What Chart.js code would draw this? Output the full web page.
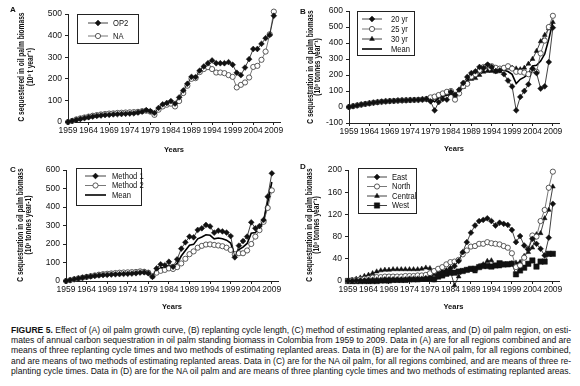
<!DOCTYPE html>
<html lang="en">
<head>
<meta charset="UTF-8">
<title>Figure 5</title>
<script src="https://cdn.jsdelivr.net/npm/chart.js"></script>
<style>
  body { margin: 0; width: 580px; height: 386px; background: #fff; position: relative; overflow: hidden;
         font-family: 'Liberation Sans', Arial, sans-serif; color: #111; }
  canvas { position: absolute; }
  .letter { position: absolute; font-weight: bold; font-size: 8px; }
  .ytitle { position: absolute; white-space: nowrap; font-weight: bold; font-size: 8.5px; line-height: 8px;
            transform: translate(-50%, -50%) rotate(-90deg) scaleX(0.78); }
  .caption { position: absolute; left: 11px; font-size: 9px; line-height: 10.4px; }
  .caption div { white-space: nowrap; width: max-content; transform-origin: 0 0; }
</style>
</head>
<body>
<canvas id="chartA" width="290" height="160" style="left:0;top:0"></canvas>
<canvas id="chartB" width="290" height="160" style="left:290px;top:0"></canvas>
<canvas id="chartC" width="290" height="160" style="left:0;top:160px"></canvas>
<canvas id="chartD" width="290" height="160" style="left:290px;top:160px"></canvas>

<div class="letter" style="left:10px;top:5px">A</div>
<div class="letter" style="left:300px;top:7px">B</div>
<div class="letter" style="left:10px;top:165px">C</div>
<div class="letter" style="left:300px;top:162px">D</div>

<div class="ytitle" style="left:21px;top:67px">C sequestered in oil palm biomass</div>
<div class="ytitle" style="left:29.5px;top:67px">(10³ t year⁻¹)</div>
<div class="ytitle" style="left:309.5px;top:67px">C sequestration in oil palm biomass</div>
<div class="ytitle" style="left:317px;top:67px">(10³ tonnes year⁻¹)</div>
<div class="ytitle" style="left:20px;top:225px">C sequestration in oil palm biomass</div>
<div class="ytitle" style="left:27.5px;top:225px">(10³ tonnes year-1)</div>
<div class="ytitle" style="left:308.5px;top:225px">C sequestration in oil palm biomass</div>
<div class="ytitle" style="left:316px;top:225px">(10³ tonnes year⁻¹)</div>

<div class="caption" style="top:324.5px">
  <div><b>FIGURE 5.</b> Effect of (A) oil palm growth curve, (B) replanting cycle length, (C) method of estimating replanted areas, and (D) oil palm region, on esti-</div>
  <div>mates of annual carbon sequestration in oil palm standing biomass in Colombia from 1959 to 2009. Data in (A) are for all regions combined and are</div>
  <div>means of three replanting cycle times and two methods of estimating replanted areas. Data in (B) are for the NA oil palm, for all regions combined,</div>
  <div>and are means of two methods of estimating replanted areas. Data in (C) are for the NA oil palm, for all regions combined, and are means of three re-</div>
  <div>planting cycle times. Data in (D) are for the NA oil palm and are means of three planting cycle times and two methods of estimating replanted areas.</div>
</div>
<script>
// years on the x axis
const years = [1959,1960,1961,1962,1963,1964,1965,1966,1967,1968,1969,1970,1971,1972,1973,1974,1975,1976,1977,1978,
  1979,1980,1981,1982,1983,1984,1985,1986,1987,1988,1989,1990,1991,1992,1993,1994,1995,1996,1997,1998,
  1999,2000,2001,2002,2003,2004,2005,2006,2007,2008,2009];
const tickYears = [1959,1964,1969,1974,1979,1984,1989,1994,1999,2004,2009];

// (A) growth curve
const op2 = [0,5,10,14,18,22,25,28,30,32,33,35,36,37,38,39,40,44,48,55,50,
  42,65,82,88,97,85,114,146,177,209,208,238,257,272,285,272,272,272,277,265,228,217,252,291,338,338,362,388,403,492];
const na = [0,5,12,17,21,25,29,32,35,37,39,40,42,43,44,45,46,47,50,52,48,
  33,57,72,80,85,72,97,134,168,200,203,231,245,254,245,229,229,226,217,209,160,172,183,206,255,260,288,326,406,511];

// (B) replanting cycle
const yr20 = [0,5,10,15,19,23,27,30,33,35,37,38,40,41,42,43,44,45,47,50,
  35,-21,31,50,46,94,77,108,150,188,212,223,250,244,265,250,225,229,205,165,128,-21,63,100,142,240,212,115,129,281,496];
const yr25 = [0,5,10,15,19,23,27,30,33,35,37,38,40,41,42,43,44,45,47,50,
  60,65,75,85,95,100,46,85,130,145,190,205,230,250,260,255,245,240,245,255,240,220,220,215,205,230,220,335,415,500,570];
const yr30 = [0,5,10,15,19,23,27,30,33,35,37,38,40,41,42,43,44,45,47,50,
  50,55,65,75,80,85,70,95,125,160,175,180,200,220,225,225,220,225,240,245,245,240,235,245,270,300,350,410,450,490,530];
const meanB = [0,5,10,15,19,23,27,30,33,35,37,38,40,41,42,43,44,45,47,50,
  48,33,57,70,74,93,64,96,135,164,192,203,227,238,250,243,230,231,230,222,204,146,173,187,206,257,261,287,331,424,532];

// (C) replanted area method
const method1 = [0,5,10,14,18,22,25,28,30,32,33,35,36,37,38,39,40,42,45,47,42,
  23,68,90,85,104,77,117,175,209,240,236,276,285,303,295,261,272,268,262,243,128,191,216,240,317,285,297,330,456,582];
const method2 = [0,4,9,14,18,22,26,30,34,37,39,41,43,45,46,47,48,49,52,50,45,
  25,45,55,60,68,65,75,95,120,145,160,180,190,197,198,195,192,188,180,168,145,150,150,165,200,240,275,320,395,490];
const meanC = [0,5,10,14,18,22,26,29,32,35,36,38,40,41,42,43,44,46,49,49,44,
  24,57,72,72,86,71,96,135,165,193,198,228,238,250,247,228,232,228,221,205,137,170,183,203,258,262,286,325,425,535];

// (D) region
const east = [0,0,1,1,1,2,2,2,2,3,3,3,3,3,3,4,4,4,4,5,5,
  3,10,14,18,23,27,36,52,70,87,100,108,110,113,108,100,105,103,101,92,70,81,64,57,76,67,58,46,78,139];
const north = [0,1,2,3,4,5,6,7,7,8,8,8,8,8,9,9,9,10,10,11,14,
  18,22,25,30,34,35,38,48,55,62,63,67,67,70,68,67,66,63,60,50,25,28,42,58,82,80,108,128,168,197];
const central = [0,2,4,6,9,11,14,17,19,20,20,21,21,21,21,21,21,21,22,24,23,
  12,16,18,19,17,-8,8,18,20,20,17,27,30,36,37,27,26,28,30,32,33,34,45,52,60,84,86,113,128,170];
const west = [0,0,0,0,0,0,0,0,1,1,1,2,2,2,2,3,3,3,4,4,5,
  3,8,10,13,15,15,17,18,20,22,22,25,27,27,26,28,32,30,30,31,12,19,24,31,37,26,35,35,49,49];

const FONT = "'Liberation Sans', Arial, sans-serif";

// squeeze every caption line to the full text width
document.querySelectorAll('.caption div').forEach(d => {
  const w = d.getBoundingClientRect().width;
  d.style.transform = 'scaleX(' + (560 / w) + ')';
});

function pts(vals) {
  return years.map((y, i) => ({ x: y, y: vals[i] }));
}

// marker styles
function filledDiamond(label, vals) {
  return { label, data: pts(vals), borderColor: '#111', borderWidth: 0.8, pointStyle: 'rectRot',
    pointRadius: 2.9, pointBackgroundColor: '#111', pointBorderColor: '#111', pointBorderWidth: 0.5, clip: false };
}
function openCircle(label, vals) {
  return { label, data: pts(vals), borderColor: '#555', borderWidth: 0.8, pointStyle: 'circle',
    pointRadius: 2.6, pointBackgroundColor: '#fff', pointBorderColor: '#333', pointBorderWidth: 0.8, clip: false };
}
function triangle(label, vals) {
  return { label, data: pts(vals), borderColor: '#111', borderWidth: 0.8, pointStyle: 'triangle',
    pointRadius: 2.8, pointBackgroundColor: '#111', pointBorderColor: '#111', pointBorderWidth: 0.5, clip: false };
}
function square(label, vals) {
  return { label, data: pts(vals), borderColor: '#111', borderWidth: 0.8, pointStyle: 'rect',
    pointRadius: 3.8, pointBackgroundColor: '#111', pointBorderColor: '#111', pointBorderWidth: 0.5, clip: false };
}
function meanLine(label, vals) {
  return { label, data: pts(vals), borderColor: '#000', borderWidth: 1.6, pointRadius: 0, clip: false };
}

// legend drawn as a framed box inside the plot
const boxLegend = {
  id: 'boxLegend',
  afterDraw(chart, args, o) {
    const ctx = chart.ctx;
    ctx.save();
    ctx.strokeStyle = '#222';
    ctx.lineWidth = 1;
    ctx.strokeRect(o.x + 0.5, o.y + 0.5, o.w, o.h);
    ctx.font = '9.5px ' + FONT;
    ctx.textBaseline = 'middle';
    chart.data.datasets.forEach((ds, i) => {
      const y = o.y + o.first + i * o.gap;
      ctx.strokeStyle = ds.borderColor;
      ctx.lineWidth = ds.borderWidth;
      ctx.beginPath();
      ctx.moveTo(o.x + o.l1, y);
      ctx.lineTo(o.x + o.l2, y);
      ctx.stroke();
      if (ds.pointRadius > 0) {
        ctx.fillStyle = ds.pointBackgroundColor;
        ctx.strokeStyle = ds.pointBorderColor;
        ctx.lineWidth = ds.pointBorderWidth;
        Chart.helpers.drawPoint(ctx, { pointStyle: ds.pointStyle, radius: ds.pointRadius, borderWidth: ds.pointBorderWidth },
          o.x + (o.l1 + o.l2) / 2, y);
      }
      ctx.save();
      ctx.translate(o.x + o.tx, y);
      ctx.scale(0.8, 1);
      ctx.fillStyle = '#111';
      ctx.fillText(ds.label, 0, 0);
      ctx.restore();
    });
    ctx.restore();
  }
};

function makePanel(id, sets, p) {
  return new Chart(document.getElementById(id), {
    type: 'line',
    data: { datasets: sets },
    plugins: [boxLegend],
    options: {
      responsive: false,
      animation: false,
      layout: { padding: { left: 0, top: p.top, right: 290 - p.right, bottom: 0 } },
      plugins: { legend: { display: false }, tooltip: { enabled: false }, boxLegend: p.legend },
      scales: {
        x: {
          type: 'linear', min: 1959, max: 2010.5,
          afterBuildTicks: s => { s.ticks = tickYears.map(v => ({ value: v })); },
          afterFit: s => { s.height = 160 - p.bottom; },
          grid: { display: true, drawOnChartArea: false, drawTicks: true, tickLength: 3, color: '#222' },
          border: { color: '#222', width: 1 },
          ticks: { color: '#111', font: { family: FONT, size: 8.5 }, padding: 1, maxRotation: 0, autoSkip: false,
                   callback: v => String(v) },
          title: { display: true, text: 'Years', color: '#111', font: { family: FONT, size: 7.5, weight: 'bold', lineHeight: 1.2 },
                   padding: { top: 0, bottom: p.xTitlePad } }
        },
        y: {
          min: p.ymin, max: p.ymax,
          afterFit: s => { s.width = p.left; },
          ticks: { stepSize: p.step, color: '#111', font: { family: FONT, size: 8.5 }, padding: 3 },
          grid: { display: true, drawOnChartArea: false, drawTicks: true, tickLength: 3, color: '#222' },
          border: { color: '#222', width: 1 }
        }
      }
    }
  });
}

makePanel('chartA', [filledDiamond('OP2', op2), openCircle('NA', na)], {
  left: 68, right: 280, top: 14, bottom: 122, ymin: 0, ymax: 500, step: 100, xTitlePad: 6,
  legend: { x: 77, y: 14, w: 61, h: 29, first: 9, gap: 13, l1: 11, l2: 31, tx: 36 }
});
makePanel('chartB', [filledDiamond('20 yr', yr20), openCircle('25 yr', yr25), triangle('30 yr', yr30), meanLine('Mean', meanB)], {
  left: 59, right: 269, top: 11, bottom: 123, ymin: -100, ymax: 600, step: 100, xTitlePad: 7,
  legend: { x: 67, y: 11, w: 57, h: 44, first: 8, gap: 10, l1: 5, l2: 25, tx: 34 }
});
makePanel('chartC', [filledDiamond('Method 1', method1), openCircle('Method 2', method2), meanLine('Mean', meanC)], {
  left: 66, right: 278, top: 10, bottom: 121, ymin: 0, ymax: 600, step: 100, xTitlePad: 9,
  legend: { x: 76, y: 8, w: 65, h: 37, first: 8, gap: 9.5, l1: 9, l2: 30, tx: 36 }
});
makePanel('chartD', [filledDiamond('East', east), openCircle('North', north), triangle('Central', central), square('West', west)], {
  left: 58, right: 269, top: 10, bottom: 121, ymin: 0, ymax: 200, step: 40, xTitlePad: 9,
  legend: { x: 68, y: 8, w: 58, h: 45, first: 9, gap: 9.5, l1: 9, l2: 29, tx: 34 }
});
</script>
</body>
</html>
